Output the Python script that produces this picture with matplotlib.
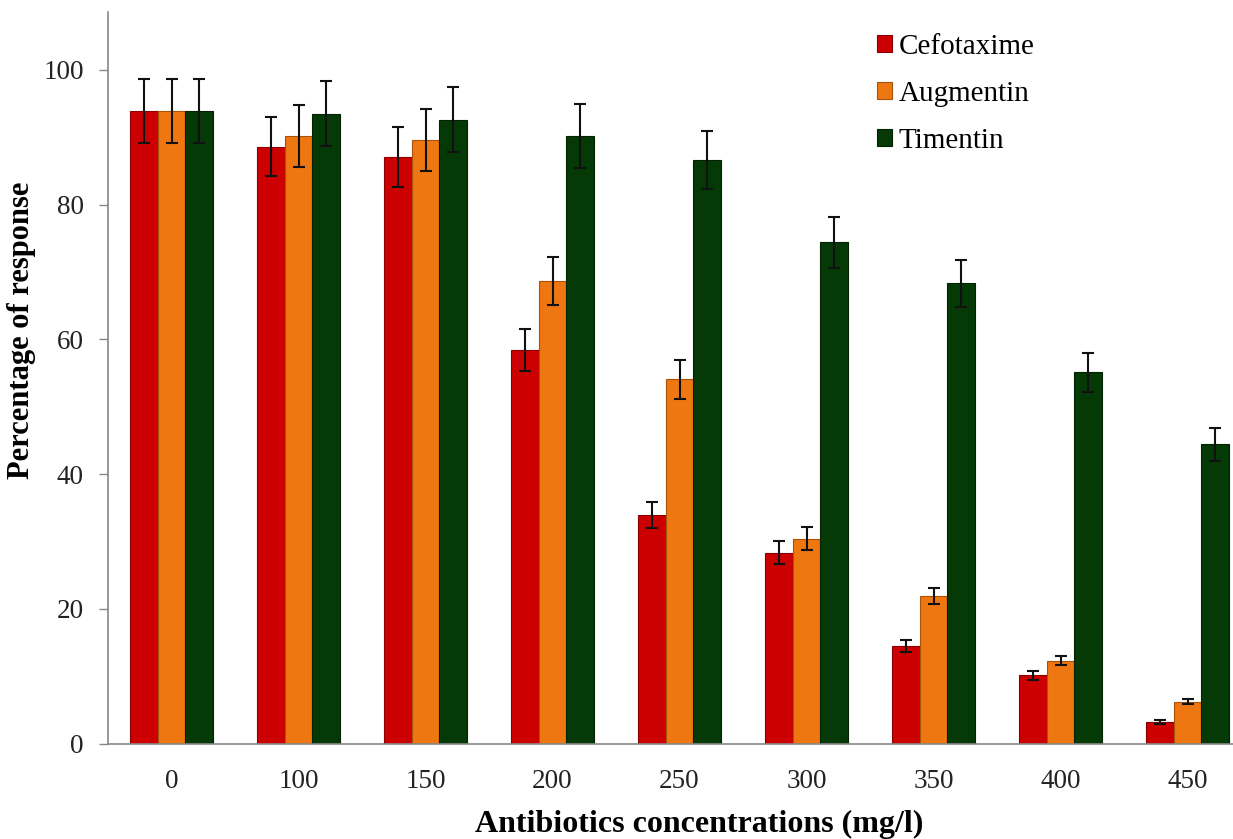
import matplotlib
matplotlib.use("Agg")
import matplotlib.pyplot as plt
import numpy as np

categories = ["0", "100", "150", "200", "250", "300", "350", "400", "450"]
series_names = ["Cefotaxime", "Augmentin", "Timentin"]
cefotaxime = [93.9, 88.6, 87.1, 58.4, 33.9, 28.3, 14.5, 10.1, 3.2]
augmentin = [93.9, 90.2, 89.6, 68.7, 54.1, 30.4, 21.9, 12.3, 6.2]
timentin = [93.9, 93.5, 92.6, 90.2, 86.6, 74.4, 68.3, 55.1, 44.4]
cefotaxime_err = [4.7, 4.4, 4.5, 3.1, 1.9, 1.7, 0.9, 0.6, 0.25]
augmentin_err = [4.7, 4.6, 4.6, 3.6, 2.9, 1.7, 1.2, 0.7, 0.4]
timentin_err = [4.7, 4.8, 4.8, 4.7, 4.3, 3.8, 3.5, 2.9, 2.5]
yticks = [0, 20, 40, 60, 80, 100]

colors = ["#CC0000", "#EE7711", "#053A07"]
edges = ["#8A0000", "#A8520A", "#022202"]

W, H = 1233, 839
fig = plt.figure(figsize=(W / 100, H / 100), dpi=100)
ax = fig.add_axes([108 / W, 95.5 / H, 1143 / W, 731.5 / H])

serif = ["Liberation Serif", "DejaVu Serif"]
x = np.arange(len(categories))
bw = 0.22
data = [cefotaxime, augmentin, timentin]
errs = [cefotaxime_err, augmentin_err, timentin_err]
for i, (vals, err) in enumerate(zip(data, errs)):
    xpos = x + (i - 1) * bw
    ax.bar(xpos, vals, width=bw, color=colors[i], edgecolor=edges[i],
           linewidth=0.8, label=series_names[i], zorder=2)
    ax.errorbar(xpos, vals, yerr=err, fmt="none", ecolor="#111111",
                elinewidth=1.5, capsize=4.5, capthick=1.5, zorder=3)

ax.set_xlim(-0.5, len(categories) - 0.5)
ax.set_ylim(0, 108.6)
ax.set_yticks(yticks)
ax.set_xticks(x)
ax.set_xticklabels(categories, fontsize=19.5, family=serif)
ax.set_yticklabels([str(v) for v in yticks], fontsize=19.5, family=serif)
ax.tick_params(axis="x", length=0, pad=18, colors="#222222")
ax.tick_params(axis="y", length=6.5, width=1, color="#888888", pad=11,
               labelcolor="#222222")
for s in ["top", "right"]:
    ax.spines[s].set_visible(False)
for s in ["left", "bottom"]:
    ax.spines[s].set_color("#888888")
    ax.spines[s].set_linewidth(1.2)

fig.text(699 / W, 1 - 824 / H, "Antibiotics concentrations (mg/l)",
         ha="center", va="center", fontsize=23, fontweight="bold",
         family=serif)
fig.text(22 / W, 1 - 330 / H, "Percentage of response", ha="center",
         va="center", rotation=90, fontsize=22, fontweight="bold",
         family=serif)

leg = ax.legend(loc="upper left", bbox_to_anchor=(877 / W, 1 - 34 / H),
                bbox_transform=fig.transFigure, frameon=False,
                prop={"family": serif, "size": 21}, handlelength=0.52,
                handleheight=0.52, handletextpad=0.22, labelspacing=0.72,
                borderpad=0, borderaxespad=0)

fig.savefig("out.png", dpi=100)
